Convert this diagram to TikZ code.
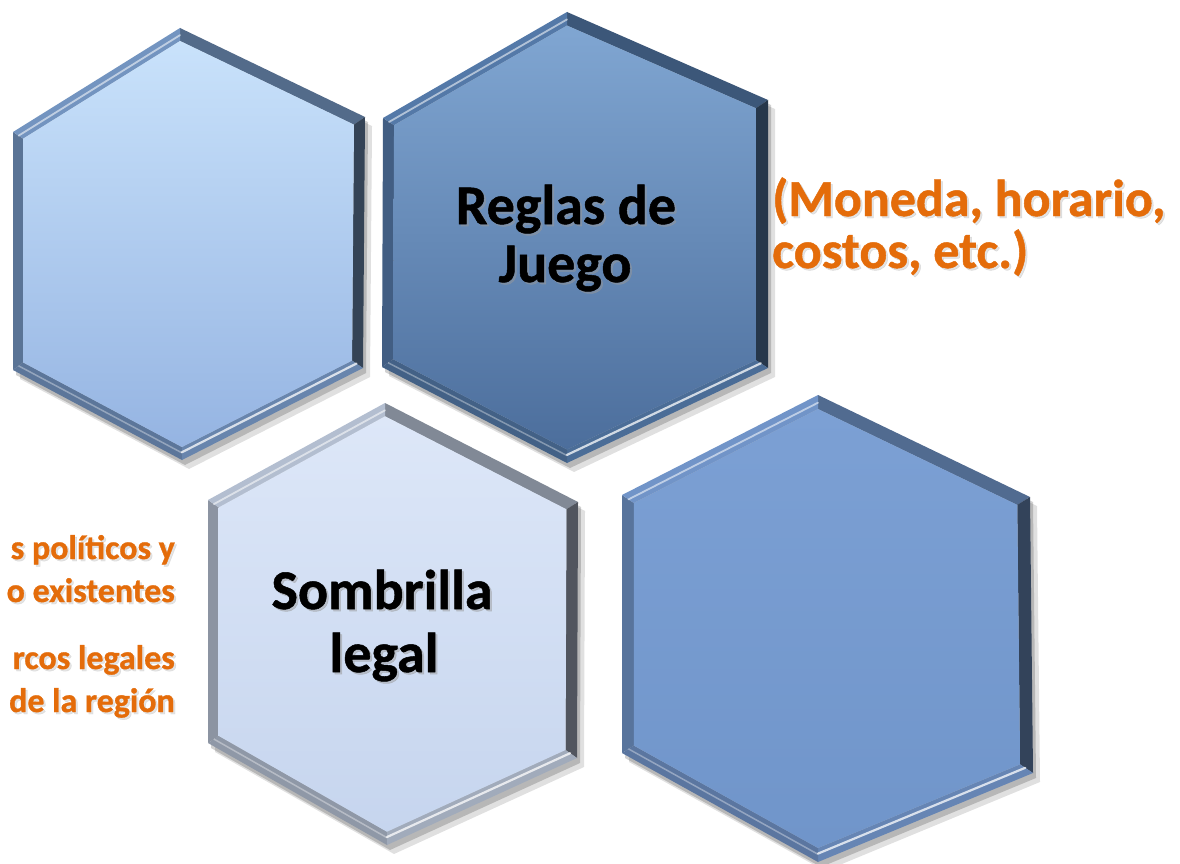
\documentclass[tikz,border=0pt]{standalone}
\usepackage{fontspec}
\setmainfont{Carlito}[BoldFeatures={FakeBold=0.9}]
\usetikzlibrary{calc}
\definecolor{orangetxt}{HTML}{E46C0A}
\colorlet{edgebase}{blue}
\colorlet{filltop}{white}
\colorlet{fillbot}{white}
\newcommand\hexbox[7]{%
  \coordinate (#1-1) at (#2);
  \coordinate (#1-2) at (#3);
  \coordinate (#1-3) at (#4);
  \coordinate (#1-4) at (#5);
  \coordinate (#1-5) at (#6);
  \coordinate (#1-6) at (#7);
  \coordinate (#1-c) at ($(#1-1)!0.5!(#1-4)$);
  \foreach \k in {1,...,6} {\coordinate (#1-i\k) at ($(#1-c)!0.94!(#1-\k)$);}
  % shadow
  \fill[black, opacity=0.12] ($(#1-1)+(7,9)$) -- ($(#1-2)+(7,9)$) -- ($(#1-3)+(7,9)$) -- ($(#1-4)+(7,9)$) -- ($(#1-5)+(7,9)$) -- ($(#1-6)+(7,9)$) -- cycle;
  \fill[black, opacity=0.18] ($(#1-1)+(3,5)$) -- ($(#1-2)+(3,5)$) -- ($(#1-3)+(3,5)$) -- ($(#1-4)+(3,5)$) -- ($(#1-5)+(3,5)$) -- ($(#1-6)+(3,5)$) -- cycle;
  % bevel sides
  \fill[edgebase!72!black] (#1-1) -- (#1-2) -- (#1-i2) -- (#1-i1) -- cycle;
  \fill[edgebase!45!black] (#1-2) -- (#1-3) -- (#1-i3) -- (#1-i2) -- cycle;
  \fill[edgebase!90!black] (#1-3) -- (#1-4) -- (#1-i4) -- (#1-i3) -- cycle;
  \fill[edgebase!80!black] (#1-4) -- (#1-5) -- (#1-i5) -- (#1-i4) -- cycle;
  \fill[edgebase!78!black] (#1-5) -- (#1-6) -- (#1-i6) -- (#1-i5) -- cycle;
  \fill[edgebase] (#1-6) -- (#1-1) -- (#1-i1) -- (#1-i6) -- cycle;
  % highlights
  \draw[white, opacity=0.75, line width=2.2pt, line cap=round]
    ($(#1-i3)!0.4!(#1-3)$) -- ($(#1-i4)!0.4!(#1-4)$);
  \draw[white, opacity=0.55, line width=1.8pt, line cap=round]
    ($(#1-i6)!0.45!(#1-6)$) -- ($(#1-i1)!0.45!(#1-1)$);
  \draw[white, opacity=0.35, line width=1.5pt]
    ($(#1-i4)!0.45!(#1-4)$) -- ($(#1-i5)!0.45!(#1-5)$);
  % face
  \shade[top color=filltop, bottom color=fillbot]
    (#1-i1) -- (#1-i2) -- (#1-i3) -- (#1-i4) -- (#1-i5) -- (#1-i6) -- cycle;
}
\tikzset{
  blk/.style={font=\fontsize{56}{62}\selectfont\bfseries, text=black, inner sep=0pt},
  blkshadow/.style={blk, text=black!40, opacity=0.45},
  orng/.style={font=\fontsize{52}{58}\selectfont\bfseries, text=orangetxt, inner sep=0pt},
  orngshadow/.style={orng, text=black!35, opacity=0.3},
  orngs/.style={font=\fontsize{34}{38}\selectfont\bfseries, text=orangetxt, inner sep=0pt},
  orngsshadow/.style={orngs, text=black!35, opacity=0.3},
}
\begin{document}
\begin{tikzpicture}[x=1pt, y=-1pt]
\fill[white] (0,0) rectangle (1180,864);
\useasboundingbox (0,0) rectangle (1180,864);

% hexagon 1 (top left)
\definecolor{edgebase}{HTML}{7394C0}
\definecolor{filltop}{HTML}{C9E2FB}
\definecolor{fillbot}{HTML}{95B4E2}
\hexbox{h1}{180,28}{365,117}{363,368}{182,460}{13,370}{13,132}

% hexagon 2 (top middle)
\definecolor{edgebase}{HTML}{5479A8}
\definecolor{filltop}{HTML}{80A6D2}
\definecolor{fillbot}{HTML}{4C6E9C}
\hexbox{h2}{567,12}{768,100}{768,368}{567,463}{382,367}{383,118}

% hexagon 3 (bottom middle)
\definecolor{edgebase}{HTML}{B3BED0}
\definecolor{filltop}{HTML}{DDE7F8}
\definecolor{fillbot}{HTML}{C6D5EE}
\hexbox{h3}{385,403}{578,502}{577,758}{387,845}{208,743}{208,500}

% hexagon 4 (bottom right)
\definecolor{edgebase}{HTML}{7194C8}
\definecolor{filltop}{HTML}{7CA0D4}
\definecolor{fillbot}{HTML}{7095CA}
\hexbox{h4}{818,395}{1030,497}{1033,773}{818,862}{622,753}{622,495}

% texts in hexagons
\node[blkshadow, anchor=base] (r1s) at (568,226) {Reglas de};
\node[blk, anchor=base] (r1) at (566,224) {Reglas de};
\node[blkshadow, anchor=base] (r2s) at (567,284) {Juego};
\node[blk, anchor=base] (r2) at (565,282) {Juego};

\node[blkshadow, anchor=base] (s1s) at (384,611) {Sombrilla};
\node[blk, anchor=base] (s1) at (382,609) {Sombrilla};
\node[blkshadow, anchor=base] (s2s) at (386,674) {legal};
\node[blk, anchor=base] (s2) at (384,672) {legal};

% orange annotation right
\node[orngshadow, anchor=base west] (m1s) at (774,218) {(Moneda, horario,};
\node[orng, anchor=base west] (m1) at (772,216) {(Moneda, horario,};
\node[orngshadow, anchor=base west] (m2s) at (774,270) {costos, etc.)};
\node[orng, anchor=base west] (m2) at (772,268) {costos, etc.)};

% orange annotation left (cut by the picture edge)
\node[orngsshadow, anchor=base east] (l1s) at (177,561) {s políticos y};
\node[orngs, anchor=base east] (l1) at (175,559) {s políticos y};
\node[orngsshadow, anchor=base east] (l2s) at (177,604) {o existentes};
\node[orngs, anchor=base east] (l2) at (175,602) {o existentes};
\node[orngsshadow, anchor=base east] (l3s) at (177,671) {rcos legales};
\node[orngs, anchor=base east] (l3) at (175,669) {rcos legales};
\node[orngsshadow, anchor=base east] (l4s) at (177,714) {de la región};
\node[orngs, anchor=base east] (l4) at (175,712) {de la región};
\end{tikzpicture}
\end{document}
